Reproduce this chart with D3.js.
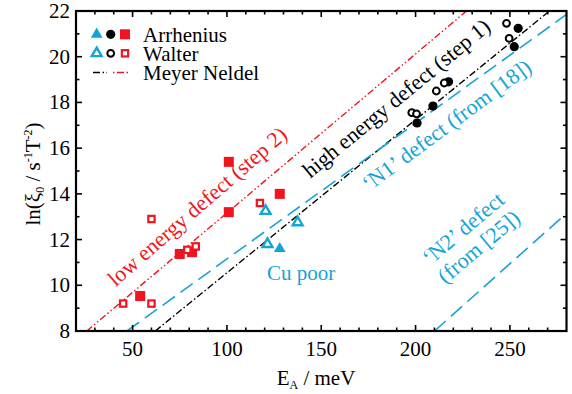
<!DOCTYPE html>
<html>
<head>
<meta charset="utf-8">
<script src="https://cdn.jsdelivr.net/npm/d3@7"></script>
<style>
  html, body { margin: 0; padding: 0; background: #fff; }
  svg text { font-family: "Liberation Serif", "Times New Roman", serif; }
</style>
</head>
<body>
<svg id="chart" width="572" height="394"></svg>
<script>
// Activation energy (meV) vs. ln of the prefactor, Arrhenius and Walter analyses
const xTicks = [50, 100, 150, 200, 250];
const yTicks = [8, 10, 12, 14, 16, 18, 20, 22];

// CIGS-type samples (red squares)
const arrheniusSquares = [[101, 15.4], [101, 13.2], [128, 14.0], [75, 11.37], [81.5, 11.45], [54, 9.53]];
const walterSquares = [[45, 9.2], [60, 9.2], [60, 12.9], [117.5, 13.6], [79, 11.55], [83.5, 11.7]];
// Cu-poor samples (blue triangles)
const arrheniusTriangles = [[128, 11.6]];
const walterTriangles = [[120.5, 13.25], [121.5, 11.8], [137.5, 12.75]];
// High energy defect (black circles)
const arrheniusCircles = [[200.8, 17.1], [209.2, 17.84], [217.5, 18.9], [254.4, 21.24], [252.3, 20.44]];
const walterCircles = [[198, 17.55], [200.5, 17.5], [211, 18.5], [215.2, 18.85], [248.2, 21.46], [249.6, 20.8]];

// Meyer-Neldel lines and literature defect lines, given by end points [E_A, ln xi0]
const mnStep2 = [[25.7, 8], [227, 22]];
const mnStep1 = [[62, 8], [271, 22]];
const n1Line = [[47, 8], [280, 21.85]];
const n2Line = [[210, 8], [280, 13.15]];

const red = "#f0141e";
const blue = "#12a5d6";

const svg = d3.select("#chart");
const pL = 76, pR = 566.5, pT = 11, pB = 331;
const x = d3.scaleLinear().domain([20, 280]).range([pL, pR]);
const y = d3.scaleLinear().domain([8, 22]).range([pB, pT]);

const plot = svg.append("g");
const clip = svg.append("defs").append("clipPath").attr("id", "plotclip");
clip.append("rect").attr("x", pL).attr("y", pT).attr("width", pR - pL).attr("height", pB - pT);

// Lines
const line = d3.line().x(d => x(d[0])).y(d => y(d[1]));
const lines = plot.append("g").attr("clip-path", "url(#plotclip)");
lines.append("path").attr("d", line(mnStep2)).attr("fill", "none").attr("stroke", red)
  .attr("stroke-width", 1.4).attr("stroke-dasharray", "7,2.5,1.5,2.5,1.5,2.5");
lines.append("path").attr("d", line(mnStep1)).attr("fill", "none").attr("stroke", "#000")
  .attr("stroke-width", 1.4).attr("stroke-dasharray", "7,2.5,1.5,2.5");
lines.append("path").attr("d", line(n1Line)).attr("fill", "none").attr("stroke", blue)
  .attr("stroke-width", 1.6).attr("stroke-dasharray", "15,7");
lines.append("path").attr("d", line(n2Line)).attr("fill", "none").attr("stroke", blue)
  .attr("stroke-width", 1.6).attr("stroke-dasharray", "15,7");

// Markers
const sq = 10, osq = 8.5;
const marks = plot.append("g");
marks.selectAll(".fsq").data(arrheniusSquares).join("rect")
  .attr("x", d => x(d[0]) - sq / 2).attr("y", d => y(d[1]) - sq / 2)
  .attr("width", sq).attr("height", sq).attr("fill", red);
marks.selectAll(".osq").data(walterSquares).join("rect")
  .attr("x", d => x(d[0]) - osq / 2 + 1.1).attr("y", d => y(d[1]) - osq / 2 + 1.1)
  .attr("width", osq - 2.2).attr("height", osq - 2.2).attr("fill", "#fff")
  .attr("stroke", red).attr("stroke-width", 2.2);
const tri = d3.symbol().type(d3.symbolTriangle);
marks.selectAll(".ftri").data(arrheniusTriangles).join("path")
  .attr("d", tri.size(60)()).attr("transform", d => `translate(${x(d[0])},${y(d[1])})`)
  .attr("fill", blue);
marks.selectAll(".otri").data(walterTriangles).join("path")
  .attr("d", tri.size(42)()).attr("transform", d => `translate(${x(d[0])},${y(d[1])})`)
  .attr("fill", "#fff").attr("stroke", blue).attr("stroke-width", 2.4).attr("stroke-linejoin", "miter");
marks.selectAll(".fcir").data(arrheniusCircles).join("circle")
  .attr("cx", d => x(d[0])).attr("cy", d => y(d[1])).attr("r", 4.6).attr("fill", "#000");
marks.selectAll(".ocir").data(walterCircles).join("circle")
  .attr("cx", d => x(d[0])).attr("cy", d => y(d[1])).attr("r", 3.4)
  .attr("fill", "#fff").attr("stroke", "#000").attr("stroke-width", 2);

// Frame and ticks (inward, on all four sides)
const axes = svg.append("g");
const xMinor = d3.range(30, 280, 10).filter(v => v % 50 !== 0);
const yMinor = d3.range(9, 22, 2);
const tickG = axes.append("g").attr("stroke", "#000").attr("stroke-width", 1.6);
xTicks.forEach(v => {
  tickG.append("line").attr("x1", x(v)).attr("x2", x(v)).attr("y1", pB).attr("y2", pB - 6);
  tickG.append("line").attr("x1", x(v)).attr("x2", x(v)).attr("y1", pT).attr("y2", pT + 6);
});
xMinor.forEach(v => {
  tickG.append("line").attr("x1", x(v)).attr("x2", x(v)).attr("y1", pB).attr("y2", pB - 3.5);
  tickG.append("line").attr("x1", x(v)).attr("x2", x(v)).attr("y1", pT).attr("y2", pT + 3.5);
});
yTicks.forEach(v => {
  tickG.append("line").attr("x1", pL).attr("x2", pL + 6).attr("y1", y(v)).attr("y2", y(v));
  tickG.append("line").attr("x1", pR).attr("x2", pR - 6).attr("y1", y(v)).attr("y2", y(v));
});
yMinor.forEach(v => {
  tickG.append("line").attr("x1", pL).attr("x2", pL + 3.5).attr("y1", y(v)).attr("y2", y(v));
  tickG.append("line").attr("x1", pR).attr("x2", pR - 3.5).attr("y1", y(v)).attr("y2", y(v));
});
axes.append("rect").attr("x", pL).attr("y", pT).attr("width", pR - pL).attr("height", pB - pT)
  .attr("fill", "none").attr("stroke", "#000").attr("stroke-width", 2.2);

// Tick labels
const fs = 21;
axes.selectAll(".xl").data(xTicks).join("text")
  .attr("x", d => x(d)).attr("y", pB + 25).attr("text-anchor", "middle")
  .attr("font-size", fs).text(d => d);
axes.selectAll(".yl").data(yTicks).join("text")
  .attr("x", pL - 6).attr("y", d => y(d) + 7).attr("text-anchor", "end")
  .attr("font-size", fs).text(d => d);

// Axis titles
const xt = svg.append("text").attr("x", 316).attr("y", 385).attr("text-anchor", "middle").attr("font-size", fs);
xt.append("tspan").text("E");
xt.append("tspan").attr("font-size", 12).attr("dy", 4).text("A");
xt.append("tspan").attr("dy", -4).text(" / meV");

const yt = svg.append("text").attr("transform", "translate(40,174) rotate(-90)")
  .attr("text-anchor", "middle").attr("font-size", fs);
yt.append("tspan").text("ln(ξ");
yt.append("tspan").attr("font-size", 12).attr("dy", 4).text("0");
yt.append("tspan").attr("dy", -4).text(" / s");
yt.append("tspan").attr("font-size", 12).attr("dy", -8).text("-1");
yt.append("tspan").attr("dy", 8).text("T");
yt.append("tspan").attr("font-size", 12).attr("dy", -8).text("-2");
yt.append("tspan").attr("dy", 8).text(")");

// Legend
const lg = svg.append("g");
const rows = [34.3, 53.3];
lg.append("path").attr("d", tri.size(60)()).attr("transform", `translate(96.7,${rows[0]})`).attr("fill", blue);
lg.append("circle").attr("cx", 110.7).attr("cy", rows[0]).attr("r", 4.6).attr("fill", "#000");
lg.append("rect").attr("x", 125 - sq / 2).attr("y", rows[0] - sq / 2).attr("width", sq).attr("height", sq).attr("fill", red);
lg.append("path").attr("d", tri.size(42)()).attr("transform", `translate(96.7,${rows[1]})`)
  .attr("fill", "#fff").attr("stroke", blue).attr("stroke-width", 2.4);
lg.append("circle").attr("cx", 110.7).attr("cy", rows[1]).attr("r", 3.4)
  .attr("fill", "#fff").attr("stroke", "#000").attr("stroke-width", 2);
lg.append("rect").attr("x", 125 - osq / 2 + 1.1).attr("y", rows[1] - osq / 2 + 1.1)
  .attr("width", osq - 2.2).attr("height", osq - 2.2).attr("fill", "#fff").attr("stroke", red).attr("stroke-width", 2.2);
lg.append("line").attr("x1", 93).attr("x2", 107).attr("y1", 72.5).attr("y2", 72.5)
  .attr("stroke", "#000").attr("stroke-width", 1.4).attr("stroke-dasharray", "7,2.5,1.5,2.5");
lg.append("line").attr("x1", 113).attr("x2", 128).attr("y1", 72.5).attr("y2", 72.5)
  .attr("stroke", red).attr("stroke-width", 1.4).attr("stroke-dasharray", "1.5,2.5,7,2.5");
[["Arrhenius", 42], ["Walter", 61], ["Meyer Neldel", 80]].forEach(([t, yy]) => {
  lg.append("text").attr("x", 143).attr("y", yy).attr("font-size", fs).text(t);
});

// Curve annotations
const ann = svg.append("g");
function rotLabel(rowsText, cx, cy, angle, color) {
  const t = ann.append("text").attr("transform", `translate(${cx},${cy}) rotate(${angle})`)
    .attr("text-anchor", "middle").attr("font-size", 22).attr("fill", color);
  rowsText.forEach((s, i) => t.append("tspan").attr("x", 0).attr("dy", i === 0 ? 0 : 24).text(s));
}
rotLabel(["low energy defect (step 2)"], 202, 212, -41, red);
rotLabel(["high energy defect (step 1)"], 401, 104, -39.5, "#000");
rotLabel(["‘N1’ defect (from [18])"], 451, 131, -36.5, blue);
rotLabel(["‘N2’ defect", "(from [25])"], 468, 234, -40, blue);
ann.append("text").attr("x", 301).attr("y", 280).attr("text-anchor", "middle")
  .attr("font-size", 21).attr("fill", blue).text("Cu poor");
</script>
</body>
</html>
